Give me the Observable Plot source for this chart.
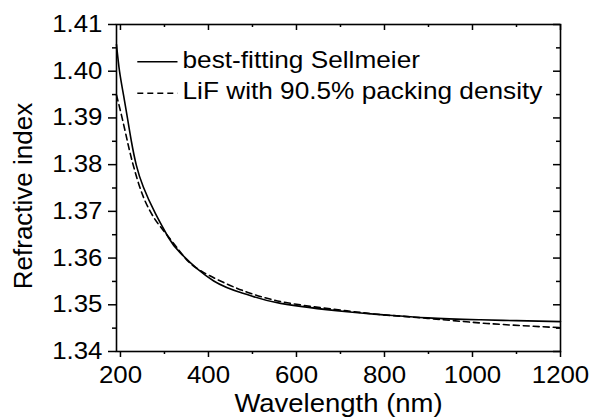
<!DOCTYPE html>
<html>
<head>
<meta charset="utf-8">
<script src="https://cdn.jsdelivr.net/npm/d3@7"></script>
<script src="https://cdn.jsdelivr.net/npm/@observablehq/plot@0.6"></script>
<style>
  html, body { margin: 0; padding: 0; background: #fff; }
  #wrap { position: relative; width: 591px; height: 418px; font-family: "Liberation Sans", Arial, sans-serif; }
  #legend { position: absolute; left: 0; top: 0; pointer-events: none; }
</style>
</head>
<body>
<div id="wrap"></div>
<script>
// Series
const sellmeierWavelength = [191, 198, 207, 216, 225, 236, 252, 279, 309, 336, 412, 488, 564, 715, 791, 898, 1018, 1100, 1200];
const sellmeierIndex      = [1.4057, 1.3999, 1.3949, 1.3899, 1.3849, 1.3799, 1.3752, 1.3696, 1.3644, 1.3611, 1.3551, 1.3522, 1.3503, 1.3485, 1.3479, 1.3472, 1.3468, 1.3466, 1.3464];

const lifWavelength = [191, 204, 216, 229, 252, 275, 291, 336, 382, 488, 600, 715, 791, 898, 1033, 1200];
const lifIndex      = [1.3949, 1.3899, 1.3849, 1.3799, 1.3731, 1.3688, 1.3667, 1.3613, 1.3573, 1.3527, 1.3501, 1.3487, 1.3479, 1.3471, 1.3460, 1.3451];

const seriesNames = ["best-fitting Sellmeier", "LiF with 90.5% packing density"];

const xMajorTicks = [200, 400, 600, 800, 1000, 1200];
const xMinorTicks = [300, 500, 700, 900, 1100];
const yMajorTicks = [1.34, 1.35, 1.36, 1.37, 1.38, 1.39, 1.40, 1.41];
const yMinorTicks = [1.345, 1.355, 1.365, 1.375, 1.385, 1.395, 1.405];

const xTitle = "Wavelength (nm)";
const yTitle = "Refractive index";

const sellmeier = sellmeierWavelength.map((w, i) => ({w, n: sellmeierIndex[i]}));
const lif = lifWavelength.map((w, i) => ({w, n: lifIndex[i]}));

const W = 591, H = 418, ML = 116, MR = 31, MT = 24, MB = 67;
const frameW = W - ML - MR, frameH = H - MT - MB;
const font = "Liberation Sans, Arial, sans-serif";
const blank = () => "";

const chart = Plot.plot({
  width: W,
  height: H,
  marginLeft: ML,
  marginRight: MR,
  marginTop: MT,
  marginBottom: MB,
  style: {fontFamily: font, background: "#fff", color: "#000", overflow: "visible"},
  x: {domain: [191, 1200]},
  y: {domain: [1.34, 1.41]},
  marks: [
    // bottom axis
    Plot.axisX({ticks: xMajorTicks, tickSize: 6, tickPadding: 9, tickFormat: d => String(d), fontSize: 23.5, strokeWidth: 1.5, label: null}),
    Plot.axisX({ticks: xMinorTicks, tickSize: 3, tickFormat: blank, strokeWidth: 1.5, label: null}),
    // left axis
    Plot.axisY({ticks: yMajorTicks, tickSize: 8, tickPadding: 6, tickFormat: d3.format(".2f"), fontSize: 23.5, strokeWidth: 1.5, label: null}),
    Plot.axisY({ticks: yMinorTicks, tickSize: 4, tickFormat: blank, strokeWidth: 1.5, label: null}),
    // top mirror ticks (inward)
    Plot.ruleX(xMajorTicks, {x: d => d, insetBottom: frameH - 6, stroke: "#000", strokeWidth: 1.5}),
    Plot.ruleX(xMinorTicks, {x: d => d, insetBottom: frameH - 3, stroke: "#000", strokeWidth: 1.5}),
    // right mirror ticks (inward)
    Plot.ruleY(yMajorTicks, {y: d => d, insetLeft: frameW - 7, stroke: "#000", strokeWidth: 1.5}),
    Plot.ruleY(yMinorTicks, {y: d => d, insetLeft: frameW - 4, stroke: "#000", strokeWidth: 1.5}),
    Plot.frame({stroke: "#000", strokeWidth: 1.6}),
    // curves
    Plot.line(sellmeier, {x: "w", y: "n", stroke: "#000", strokeWidth: 1.6, curve: "natural"}),
    Plot.line(lif, {x: "w", y: "n", stroke: "#000", strokeWidth: 1.6, strokeDasharray: "6,4", curve: "natural"}),
    // axis titles
    Plot.text([xTitle], {text: d => d, frameAnchor: "bottom", dy: 52, lineAnchor: "middle", fontSize: 25, fill: "#000"}),
    Plot.text([yTitle], {text: d => d, frameAnchor: "left", dx: -93, dy: 8, rotate: -90, lineAnchor: "middle", textAnchor: "middle", fontSize: 26, fill: "#000"})
  ]
});

// widen glyphs horizontally (reference text is slightly wider than its height suggests)
function scaleText(t, k) {
  const tr = t.getAttribute("transform");
  if (tr) {
    t.setAttribute("transform", tr + ` scale(${k},1)`);
  } else {
    const x = +(t.getAttribute("x") || 0), y = +(t.getAttribute("y") || 0);
    t.removeAttribute("x"); t.removeAttribute("y");
    t.setAttribute("transform", `translate(${x},${y}) scale(${k},1)`);
  }
}
chart.querySelectorAll('g[aria-label="x-axis tick label"] text, g[aria-label="y-axis tick label"] text')
  .forEach(t => scaleText(t, 1.1));
chart.querySelectorAll("text").forEach(t => { if (t.textContent === xTitle) scaleText(t, 1.1); });

const wrap = document.getElementById("wrap");
wrap.appendChild(chart);

// legend overlay
const ns = "http://www.w3.org/2000/svg";
const leg = document.createElementNS(ns, "svg");
leg.setAttribute("id", "legend");
leg.setAttribute("width", W);
leg.setAttribute("height", H);
const rows = [{y: 61.7, dash: null}, {y: 93.3, dash: "6,4"}];
seriesNames.forEach((name, i) => {
  const r = rows[i];
  const ln = document.createElementNS(ns, "line");
  ln.setAttribute("x1", 137.3); ln.setAttribute("x2", 177.5);
  ln.setAttribute("y1", r.y); ln.setAttribute("y2", r.y);
  ln.setAttribute("stroke", "#000"); ln.setAttribute("stroke-width", 1.6);
  if (r.dash) ln.setAttribute("stroke-dasharray", r.dash);
  leg.appendChild(ln);
  const t = document.createElementNS(ns, "text");
  t.setAttribute("transform", `translate(182.5,${r.y + 6}) scale(1.14,1)`);
  t.setAttribute("font-size", 23);
  t.setAttribute("font-family", font);
  t.setAttribute("fill", "#000");
  t.textContent = name;
  leg.appendChild(t);
});
wrap.appendChild(leg);
</script>
</body>
</html>
